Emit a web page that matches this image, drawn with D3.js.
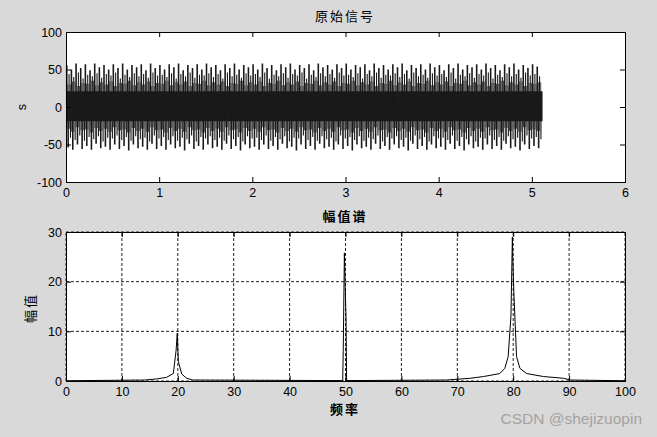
<!DOCTYPE html>
<html>
<head>
<meta charset="utf-8">
<script src="https://cdn.jsdelivr.net/npm/d3@7"></script>
<style>
  body { margin: 0; background: #d9d9d9; }
  svg { display: block; }
  .tick text { font-family: "Liberation Sans", Arial, sans-serif; font-size: 12.5px; fill: #000; }
  .cjk { font-family: "Noto Sans CJK SC", sans-serif; fill: #000; }
</style>
</head>
<body>
<svg id="frame"></svg>
<script>
// ---- data: time signal (one tall + one medium spike per 0.05 s cycle, dense core band)
const cycleStart = 0.008;
const cycleStep = 0.05;
const signalEnd = 5.115;
const bandT = [0, signalEnd];
const bandHi = [21, 21];
const bandLo = [-19, -19];

const hiA = [56,50,58,52,57,49,58,53,56,50,57,52,58,50,56,53,57,49,58,52,
             56,50,57,53,58,49,56,52,57,50,58,53,56,49,57,52,58,50,56,53,
             57,50,58,52,56,49,57,53,58,50,56,52,57,49,58,53,56,50,57,52,
             58,50,56,53,57,49,58,52,56,50,57,53,58,49,56,52,57,50,58,53,
             56,49,57,52,58,50,56,53,57,50,58,52,56,49,57,53,58,50,56,52,
             57,54];
const hiB = [44,40,46,38,43,41,45,39,44,42,46,38,43,40,45,41,44,39,46,42,
             43,40,45,38,44,41,46,39,43,42,45,40,44,38,46,41,43,39,45,42,
             44,40,46,38,43,41,45,39,44,42,46,38,43,40,45,41,44,39,46,42,
             43,40,45,38,44,41,46,39,43,42,45,40,44,38,46,41,43,39,45,42,
             44,40,46,38,43,41,45,39,44,42,46,38,43,40,45,41,44,39,46,42,
             44,41];
const hiC = [30,34,28,32,31,35,29,33,30,34,28,32,31,35,29,33,30,34,28,32,
             31,35,29,33,30,34,28,32,31,35,29,33,30,34,28,32,31,35,29,33,
             30,34,28,32,31,35,29,33,30,34,28,32,31,35,29,33,30,34,28,32,
             31,35,29,33,30,34,28,32,31,35,29,33,30,34,28,32,31,35,29,33,
             30,34,28,32,31,35,29,33,30,34,28,32,31,35,29,33,30,34,28,32,
             31,33];
const loA = [-54,-57,-50,-56,-52,-57,-49,-55,-53,-57,-50,-56,-52,-58,-50,-55,-53,-57,-49,-56,
             -52,-57,-50,-55,-53,-58,-49,-56,-52,-57,-50,-55,-53,-57,-49,-56,-52,-58,-50,-55,
             -53,-57,-50,-56,-52,-57,-49,-55,-53,-58,-50,-56,-52,-57,-49,-55,-53,-57,-50,-56,
             -52,-58,-50,-55,-53,-57,-49,-56,-52,-57,-50,-55,-53,-58,-49,-56,-52,-57,-50,-55,
             -53,-57,-49,-56,-52,-58,-50,-55,-53,-57,-50,-56,-52,-57,-49,-55,-53,-58,-50,-56,
             -52,-55];
const loB = [-41,-44,-38,-45,-40,-43,-39,-46,-41,-42,-38,-44,-40,-45,-39,-43,-41,-46,-38,-42,
             -40,-44,-39,-45,-41,-43,-38,-46,-40,-42,-39,-44,-41,-45,-38,-43,-40,-46,-39,-42,
             -41,-44,-38,-45,-40,-43,-39,-46,-41,-42,-38,-44,-40,-45,-39,-43,-41,-46,-38,-42,
             -40,-44,-39,-45,-41,-43,-38,-46,-40,-42,-39,-44,-41,-45,-38,-43,-40,-46,-39,-42,
             -41,-44,-38,-45,-40,-43,-39,-46,-41,-42,-38,-44,-40,-45,-39,-43,-41,-46,-38,-42,
             -40,-43];
const loC = [-29,-33,-27,-31,-30,-34,-28,-32,-29,-33,-27,-31,-30,-34,-28,-32,-29,-33,-27,-31,
             -30,-34,-28,-32,-29,-33,-27,-31,-30,-34,-28,-32,-29,-33,-27,-31,-30,-34,-28,-32,
             -29,-33,-27,-31,-30,-34,-28,-32,-29,-33,-27,-31,-30,-34,-28,-32,-29,-33,-27,-31,
             -30,-34,-28,-32,-29,-33,-27,-31,-30,-34,-28,-32,-29,-33,-27,-31,-30,-34,-28,-32,
             -29,-33,-27,-31,-30,-34,-28,-32,-29,-33,-27,-31,-30,-34,-28,-32,-29,-33,-27,-31,
             -30,-32];

// ---- data: amplitude spectrum
const freq = [0, 14.1, 16.2, 18.0, 19.2, 19.7, 19.9, 20.1, 20.7, 21.6, 22.7,
              49.5, 49.6, 49.8, 49.95, 50.1, 50.2,
              68.1, 72.3, 74.7, 77.6, 78.5, 79.1, 79.6, 79.85, 79.95, 80.1, 80.6, 81.2, 82.4, 85.4, 89.0, 90.2, 100];
const amp  = [0.05, 0.2, 0.4, 0.74, 1.5, 6.2, 9.6, 3.9, 1.4, 0.54, 0.2,
              0.08, 6.4, 25.8, 18.8, 12.5, 0.08,
              0.2, 0.55, 0.9, 1.5, 2.55, 4.9, 13.1, 29, 23.7, 18.3, 4.9, 2.55, 1.5, 0.9, 0.55, 0.2, 0.05];

const topXTicks = [0, 1, 2, 3, 4, 5, 6];
const topYTicks = [-100, -50, 0, 50, 100];
const botXTicks = [0, 10, 20, 30, 40, 50, 60, 70, 80, 90, 100];
const botYTicks = [0, 10, 20, 30];

// -------------------
const width = 657;
const height = 437;
const left = 66, right = 625;
const fmt = d => String(d); // MATLAB style, plain hyphen minus

const svg = d3.select('#frame')
  .attr('width', width)
  .attr('height', height);

function drawBox(g, x, y, xTicks, yTicks, showGrid) {
  const [x0, x1] = x.range();
  const [y0, y1] = y.range(); // y0 bottom, y1 top
  g.append('rect')
    .attr('x', x0).attr('y', y1)
    .attr('width', x1 - x0).attr('height', y0 - y1)
    .attr('fill', '#fff');

  if (showGrid) {
    g.selectAll('.vgrid').data(xTicks).enter().append('line')
      .attr('x1', d => x(d)).attr('x2', d => x(d))
      .attr('y1', y0).attr('y2', y1)
      .attr('stroke', '#222').attr('stroke-dasharray', '3,2').attr('stroke-width', 1);
    g.selectAll('.hgrid').data(yTicks).enter().append('line')
      .attr('x1', x0).attr('x2', x1)
      .attr('y1', d => y(d)).attr('y2', d => y(d))
      .attr('stroke', '#222').attr('stroke-dasharray', '3,2').attr('stroke-width', 1);
  }
}

function drawAxes(g, x, y, xTicks, yTicks) {
  const [x0, x1] = x.range();
  const [y0, y1] = y.range();
  const bottom = d3.axisBottom(x).tickValues(xTicks).tickFormat(fmt).tickSize(-5).tickPadding(6).tickSizeOuter(0);
  const top = d3.axisTop(x).tickValues(xTicks).tickSize(-5).tickFormat('').tickSizeOuter(0);
  const leftAx = d3.axisLeft(y).tickValues(yTicks).tickFormat(fmt).tickSize(-5).tickPadding(4).tickSizeOuter(0);
  const rightAx = d3.axisRight(y).tickValues(yTicks).tickSize(-5).tickFormat('').tickSizeOuter(0);

  g.append('g').attr('transform', `translate(0,${y0})`).call(bottom);
  g.append('g').attr('transform', `translate(0,${y1})`).call(top);
  g.append('g').attr('transform', `translate(${x0},0)`).call(leftAx);
  g.append('g').attr('transform', `translate(${x1},0)`).call(rightAx);
  g.selectAll('.domain').remove();
  g.selectAll('.tick line').attr('stroke', '#000');
  g.selectAll('.tick text').attr('font-family', null).attr('font-size', null);

  g.append('rect')
    .attr('x', x0 + 0.5).attr('y', y1 + 0.5)
    .attr('width', x1 - x0).attr('height', y0 - y1)
    .attr('fill', 'none').attr('stroke', '#000').attr('stroke-width', 1);
}

// ---- top: 原始信号
const xT = d3.scaleLinear().domain([0, 6]).range([left, right]);
const yT = d3.scaleLinear().domain([-100, 100]).range([182, 32]);
const gT = svg.append('g');
drawBox(gT, xT, yT, topXTicks, topYTicks, false);

const cycles = hiA.map((v, i) => ({
  t: cycleStart + i * cycleStep,
  hiA: v, hiB: hiB[i], hiC: hiC[i], loA: loA[i], loB: loB[i], loC: loC[i]
}));

const band = bandT.map((t, i) => ({t, hi: bandHi[i], lo: bandLo[i]}));
gT.append('path')
  .datum(band)
  .attr('fill', '#1c1c1c')
  .attr('d', d3.area().x(d => xT(d.t)).y0(d => yT(d.lo)).y1(d => yT(d.hi)));

const spikeColor = '#1a1a1a';
// spike sets: value key, phase inside a cycle, stroke width
const spikeSets = [
  ['hiA', 0.0, 1.6], ['hiB', 0.5, 1.1], ['hiC', 0.25, 0.8], ['hiC', 0.75, 0.8],
  ['loA', 0.3, 1.6], ['loB', 0.8, 1.1], ['loC', 0.05, 0.8], ['loC', 0.55, 0.8]
];
spikeSets.forEach(([key, phase, w]) => {
  gT.append('g').selectAll('line').data(cycles).enter().append('line')
    .attr('x1', d => xT(d.t + cycleStep * phase)).attr('x2', d => xT(d.t + cycleStep * phase))
    .attr('y1', yT(0)).attr('y2', d => yT(d[key]))
    .attr('stroke', spikeColor).attr('stroke-width', w);
});

drawAxes(gT, xT, yT, topXTicks, topYTicks);

svg.append('text').attr('class', 'cjk')
  .attr('x', 345).attr('y', 21).attr('text-anchor', 'middle')
  .attr('font-size', 13).attr('letter-spacing', 2)
  .text('原始信号');
svg.append('text')
  .attr('transform', 'translate(26,107) rotate(-90)')
  .attr('text-anchor', 'middle')
  .attr('font-family', '"Liberation Sans", Arial, sans-serif').attr('font-size', 12.5)
  .text('s');

// ---- bottom: 幅值谱
const xB = d3.scaleLinear().domain([0, 100]).range([left, right]);
const yB = d3.scaleLinear().domain([0, 30]).range([381, 232]);
const gB = svg.append('g');
drawBox(gB, xB, yB, botXTicks, botYTicks, true);

const spec = freq.map((f, i) => ({f, a: amp[i]}));
gB.append('path')
  .datum(spec)
  .attr('fill', 'none')
  .attr('stroke', '#000')
  .attr('stroke-width', 1)
  .attr('d', d3.line().x(d => xB(d.f)).y(d => yB(d.a)));

drawAxes(gB, xB, yB, botXTicks, botYTicks);

svg.append('text').attr('class', 'cjk')
  .attr('x', 345).attr('y', 221).attr('text-anchor', 'middle')
  .attr('font-size', 13).attr('font-weight', 'bold').attr('letter-spacing', 2)
  .text('幅值谱');
svg.append('text').attr('class', 'cjk')
  .attr('x', 345).attr('y', 414).attr('text-anchor', 'middle')
  .attr('font-size', 13).attr('font-weight', 'bold').attr('letter-spacing', 2)
  .text('频率');
svg.append('text').attr('class', 'cjk')
  .attr('transform', 'translate(35,308) rotate(-90)')
  .attr('text-anchor', 'middle')
  .attr('font-size', 13).attr('letter-spacing', 2)
  .text('幅值');

// watermark
svg.append('text')
  .attr('x', 642).attr('y', 424).attr('text-anchor', 'end')
  .attr('font-family', '"Liberation Sans", Arial, sans-serif').attr('font-size', 15.5)
  .attr('fill', '#a3a3a3')
  .text('CSDN @shejizuopin');
</script>
</body>
</html>
